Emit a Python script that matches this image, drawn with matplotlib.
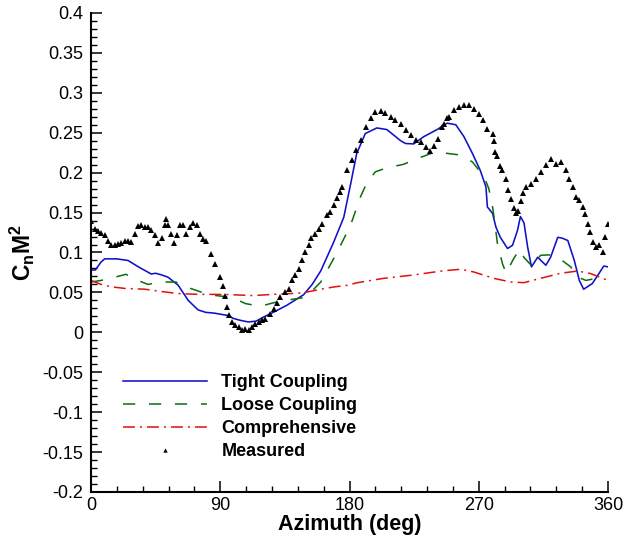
import numpy as np
import matplotlib
matplotlib.use("Agg")
import matplotlib.pyplot as plt
from matplotlib.ticker import MultipleLocator, FuncFormatter

plt.rcParams['font.family'] = ['Liberation Sans', 'DejaVu Sans']
plt.rcParams['mathtext.fontset'] = 'custom'
plt.rcParams['mathtext.rm'] = 'Liberation Sans'
plt.rcParams['mathtext.bf'] = 'Liberation Sans:bold'

# tight coupling (CFD/CSD)
tight_az = [0, 3, 7, 9.5, 18, 25.8, 33, 42, 45, 49, 53.7, 60.7, 67.7, 74.6, 80, 86,
            95.6, 99, 104, 109.5, 115, 120, 128, 136.5, 148, 154, 160, 169, 176,
            180.7, 185, 191, 199, 206, 215.6, 219, 224.7, 231.6, 241, 248, 254,
            259.7, 265.6, 271, 275, 276, 279.6, 281.9, 285, 290, 293.5, 297, 299,
            301.5, 304, 306.7, 311, 316.7, 320, 325, 328, 332, 336.5, 340, 343,
            349, 353.8, 357, 360]
tight_cn = [0.078, 0.078, 0.088, 0.092, 0.092, 0.090, 0.082, 0.073, 0.074, 0.072,
            0.069, 0.059, 0.040, 0.028, 0.025, 0.024, 0.021, 0.0175, 0.015, 0.013,
            0.014, 0.019, 0.026, 0.034, 0.047, 0.060, 0.077, 0.113, 0.144, 0.185,
            0.224, 0.249, 0.256, 0.254, 0.240, 0.2365, 0.236, 0.245, 0.254, 0.262,
            0.260, 0.245, 0.224, 0.203, 0.182, 0.157, 0.149, 0.132, 0.119, 0.105,
            0.109, 0.128, 0.145, 0.137, 0.107, 0.082, 0.094, 0.084, 0.094, 0.119,
            0.118, 0.115, 0.090, 0.065, 0.054, 0.061, 0.074, 0.083, 0.082]

# loose coupling
loose_az = [0, 7, 14, 20, 24.4, 28, 34, 39.8, 48, 59, 67.7, 79, 87, 98, 107.5, 118,
            127, 139, 148, 154, 160, 171, 180.7, 187.7, 192, 198, 205, 217.7, 226,
            237.7, 245.6, 257.5, 265.6, 273.7, 277, 279.6, 281, 283, 286.5, 289,
            294.5, 298.6, 301.4, 307.5, 313, 319, 325, 334, 339, 344.7, 351.6, 357]
loose_cn = [0.063, 0.065, 0.068, 0.0706, 0.0727, 0.069, 0.064, 0.060, 0.063, 0.063,
            0.056, 0.049, 0.046, 0.044, 0.036, 0.0326, 0.037, 0.041, 0.0435, 0.052,
            0.063, 0.099, 0.134, 0.170, 0.187, 0.201, 0.2055, 0.2105, 0.2167, 0.2247,
            0.2247, 0.222, 0.2134, 0.1946, 0.180, 0.157, 0.140, 0.111, 0.086, 0.074,
            0.093, 0.104, 0.094, 0.082, 0.0965, 0.097, 0.094, 0.082, 0.069, 0.065,
            0.0676, 0.076]

# comprehensive analysis
comp_az = [0, 7, 14, 23.5, 37.5, 48, 60.7, 74.6, 94, 113, 127, 143.5, 150.5, 160,
           169, 179, 185, 203.7, 222.6, 245, 257.5, 266.5, 280.5, 292.3, 301.4, 313,
           327, 338.9, 348, 360]
comp_cn = [0.065, 0.060, 0.057, 0.055, 0.054, 0.0514, 0.0485, 0.0476, 0.0474, 0.046,
           0.0476, 0.0489, 0.0505, 0.054, 0.0568, 0.059, 0.062, 0.0676, 0.0714, 0.077,
           0.079, 0.0756, 0.0676, 0.063, 0.0622, 0.0676, 0.074, 0.0768, 0.0735, 0.065]

# flight test
meas_az = [0, 2.6, 4.9, 7, 9.5, 11.9, 14.2, 16.5, 18.8, 21, 23.5, 25.8, 28, 30.5,
           32.8, 35, 37.5, 39.8, 42, 44.4, 46.7, 49.5, 51.4, 52.5, 53.7, 55.6, 57.9,
           60.2, 61.9, 64.2, 66.5, 68.9, 71.2, 73.5, 75.8, 78.1, 80.4, 83.9, 86.3,
           89.8, 92.1, 93.3, 94.4, 95.8, 98.2, 100.5, 102.8, 105, 107.4, 109.7, 112,
           114.4, 116.7, 119, 121.4, 124.9, 127.2, 129.5, 131.9, 135.3, 137.6, 140,
           142.3, 144.6, 147, 149.3, 151.6, 153.5, 156.3, 158.6, 161, 164.4, 166.7,
           169, 171.4, 173.7, 175, 178.4, 181.9, 184.2, 187.7, 191.2, 194.7, 198,
           201.6, 205, 208.6, 212, 215.6, 219, 222.6, 226, 229.5, 233, 236, 238.8,
           241.6, 244.7, 245.8, 248, 249.3, 252.8, 256.3, 259.7, 263.2, 266.7, 270.2,
           272.6, 276, 279.6, 280.6, 281.2, 283, 284.6, 286.5, 288.8, 290.5, 292.5,
           294.3, 296, 297.6, 299.5, 301, 302.8, 306.3, 309.8, 313.3, 316.7, 320.2,
           323.7, 327.2, 330.7, 333, 335.4, 337.7, 340, 342.3, 344, 345.8, 347.7,
           349.3, 351.6, 354, 356.3, 357.9, 359.8]
meas_cn = [0.140, 0.129, 0.127, 0.1245, 0.1215, 0.115, 0.109, 0.110, 0.111, 0.112,
           0.1144, 0.1144, 0.113, 0.1237, 0.133, 0.135, 0.132, 0.132, 0.128, 0.1215,
           0.112, 0.1187, 0.134, 0.1425, 0.135, 0.1228, 0.112, 0.1224, 0.134, 0.134,
           0.1237, 0.132, 0.1374, 0.134, 0.1237, 0.1174, 0.115, 0.0986, 0.086, 0.069,
           0.0576, 0.045, 0.032, 0.0213, 0.013, 0.0088, 0.0066, 0.0025, 0.0046,
           0.0025, 0.0066, 0.011, 0.013, 0.015, 0.017, 0.0234, 0.0296, 0.0367, 0.0442,
           0.0505, 0.0547, 0.065, 0.0714, 0.0798, 0.090, 0.1006, 0.109, 0.118, 0.1237,
           0.130, 0.136, 0.1466, 0.1507, 0.159, 0.168, 0.176, 0.182, 0.203, 0.2155,
           0.228, 0.2406, 0.257, 0.268, 0.276, 0.2774, 0.275, 0.270, 0.2657, 0.2615,
           0.253, 0.247, 0.2415, 0.2385, 0.2322, 0.2272, 0.233, 0.2427, 0.257, 0.2615,
           0.268, 0.270, 0.278, 0.2823, 0.2845, 0.2845, 0.280, 0.274, 0.2657, 0.2553,
           0.249, 0.240, 0.226, 0.221, 0.208, 0.203, 0.192, 0.178, 0.1675, 0.156,
           0.1495, 0.152, 0.165, 0.175, 0.182, 0.1863, 0.1926, 0.2009, 0.209, 0.2177,
           0.2105, 0.2134, 0.203, 0.1926, 0.182, 0.1696, 0.1654, 0.157, 0.1487, 0.136,
           0.1257, 0.113, 0.107, 0.109, 0.1006, 0.119, 0.136]

fig = plt.figure(figsize=(6.23, 5.41), dpi=100)
ax = fig.add_axes([0.146, 0.0906, 0.830, 0.8854])

ax.plot(tight_az, tight_cn, '-', color='#1010c8', lw=1.15, label='Tight Coupling')
ax.plot(loose_az, loose_cn, '--', color='#0a6e0a', lw=1.1, dashes=(8, 9), label='Loose Coupling')
ax.plot(comp_az, comp_cn, '-.', color='#e01010', lw=1.1, dashes=(7.8, 3.3, 1.3, 3.3), label='Comprehensive')
ax.plot(meas_az, meas_cn, '^', color='black', ms=4.2, mew=0, ls='none', label='Measured')

ax.set_xlim(0, 360)
ax.set_ylim(-0.2, 0.4)
ax.xaxis.set_major_locator(MultipleLocator(90))
ax.xaxis.set_minor_locator(MultipleLocator(18))
ax.yaxis.set_major_locator(MultipleLocator(0.05))
ax.yaxis.set_minor_locator(MultipleLocator(0.01))
ax.yaxis.set_major_formatter(FuncFormatter(lambda v, p: '%g' % round(v, 3)))

for s in ['top', 'right']:
    ax.spines[s].set_visible(False)
for s in ['left', 'bottom']:
    ax.spines[s].set_linewidth(1.5)

ax.tick_params(which='major', direction='in', length=8, width=1.1, labelsize=13)
ax.tick_params(which='minor', direction='in', length=4.5, width=1.0)
ax.tick_params(axis='y', pad=5.5)
ax.tick_params(axis='x', pad=3.5)

ax.set_xlabel('Azimuth (deg)', fontsize=15.5, fontweight='bold', labelpad=0)
ax.set_ylabel(r'$\mathbf{C_n M^2}$', fontsize=16.5, labelpad=4)

ax.legend(loc='upper left', bbox_to_anchor=(123 / 623, 1 - 374 / 541),
          bbox_transform=fig.transFigure, frameon=False,
          prop={'weight': 'bold', 'size': 13}, handlelength=4.65,
          handletextpad=0.8, labelspacing=0.33, borderpad=0, borderaxespad=0,
          numpoints=1, markerscale=0.75)

fig.savefig('out.png', dpi=100)
